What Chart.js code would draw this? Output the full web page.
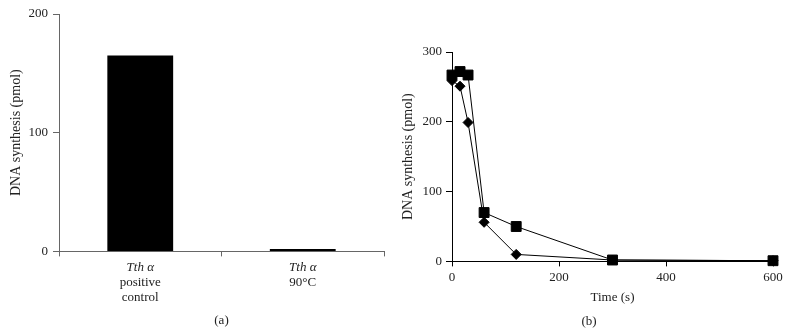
<!DOCTYPE html>
<html>
<head>
<meta charset="utf-8">
<script src="https://cdn.jsdelivr.net/npm/chart.js@4.4.1/dist/chart.umd.min.js"></script>
<style>
  body { margin: 0; background: #fff; }
  #wrap { position: relative; width: 790px; height: 336px; }
  canvas { position: absolute; top: 0; }
</style>
</head>
<body>
<div id="wrap">
  <canvas id="bar-chart" width="400" height="336" style="left:0"></canvas>
  <canvas id="time-chart" width="390" height="336" style="left:400px"></canvas>
</div>
<script>
Chart.defaults.font.family = '"Liberation Serif", "DejaVu Serif", serif'
Chart.defaults.font.size = 13
Chart.defaults.color = '#222'

// panel (a)
const groups = [['Tth α', 'positive', 'control'], ['Tth α', '90°C']]
const synthesis = [165, 2]

// panel (b)
const timePoints = [0, 15, 30, 60, 120, 300, 600]
const squareSeries = [267, 272, 267, 70, 50, 2, 1]
const diamondSeries = [259, 251, 199, 56, 10, 2, 1]

// first line of each category label is italic (Tth α)
const italicFirstLine = {
  id: 'italicFirstLine',
  afterDraw(chart) {
    const xs = chart.scales.x
    const ctx = chart.ctx
    ctx.save()
    ctx.textAlign = 'center'
    ctx.textBaseline = 'middle'
    ctx.fillStyle = '#222'
    chart.data.labels.forEach((lines, i) => {
      const px = xs.getPixelForTick(i)
      lines.forEach((line, j) => {
        ctx.font = (j === 0 ? 'italic ' : '') + '13px "Liberation Serif", serif'
        ctx.fillText(line, px, xs.top + 16 + j * 15)
      })
    })
    ctx.restore()
  }
}

const barChart = new Chart(document.getElementById('bar-chart'), {
  type: 'bar',
  data: {
    labels: groups,
    datasets: [{
      data: synthesis,
      backgroundColor: '#000',
      barPercentage: 0.405,
      categoryPercentage: 1
    }]
  },
  options: {
    responsive: false,
    animation: false,
    layout: { padding: { left: 0, top: 14, right: 16, bottom: 8 } },
    plugins: {
      legend: { display: false },
      tooltip: { enabled: false },
      title: { display: true, text: '(a)', position: 'bottom', fullSize: false, padding: 0, font: { size: 13, weight: 'normal' }, color: '#222' }
    },
    scales: {
      x: {
        grid: { drawOnChartArea: false, tickLength: 5, color: '#666', offset: true },
        border: { color: '#666' },
        ticks: { display: false },
        afterFit: s => { s.height = 61 }
      },
      y: {
        min: 0,
        max: 200,
        ticks: { stepSize: 100, padding: 5 },
        grid: { drawOnChartArea: false, tickLength: 6, color: '#666' },
        border: { color: '#666' },
        title: { display: true, text: 'DNA synthesis (pmol)', font: { size: 14 }, padding: { top: 8, bottom: 0 } },
        afterFit: s => { s.width = 59 }
      }
    }
  },
  plugins: [italicFirstLine]
})

const toPoints = vals => timePoints.map((t, i) => ({ x: t, y: vals[i] }))

const timeChart = new Chart(document.getElementById('time-chart'), {
  type: 'scatter',
  data: {
    datasets: [{
      data: toPoints(diamondSeries),
      showLine: true,
      borderColor: '#000',
      borderWidth: 1,
      backgroundColor: '#000',
      pointStyle: 'rectRot',
      pointRadius: 5,
      clip: false
    }, {
      data: toPoints(squareSeries),
      showLine: true,
      borderColor: '#000',
      borderWidth: 1,
      backgroundColor: '#000',
      pointStyle: 'rect',
      pointRadius: 7,
      clip: false
    }]
  },
  options: {
    responsive: false,
    animation: false,
    layout: { padding: { left: 5, top: 52, right: 17, bottom: 7 } },
    plugins: {
      legend: { display: false },
      tooltip: { enabled: false },
      title: { display: true, text: '(b)', position: 'bottom', padding: 0, font: { size: 13, weight: 'normal' }, color: '#222' }
    },
    scales: {
      x: {
        type: 'linear',
        min: 0,
        max: 600,
        ticks: { stepSize: 200, padding: 3 },
        grid: { drawOnChartArea: false, tickLength: 5, color: '#000' },
        border: { color: '#000' },
        title: { display: true, text: 'Time (s)', padding: { top: 0, bottom: 8 } },
        afterFit: s => { s.height = 52 }
      },
      y: {
        min: 0,
        max: 300,
        ticks: { stepSize: 100, padding: 4 },
        grid: { drawOnChartArea: false, tickLength: 6, color: '#000' },
        border: { color: '#000' },
        title: { display: true, text: 'DNA synthesis (pmol)', font: { size: 14 }, padding: { top: -5, bottom: 0 } },
        afterFit: s => { s.width = 47 }
      }
    }
  }
})
</script>
</body>
</html>
